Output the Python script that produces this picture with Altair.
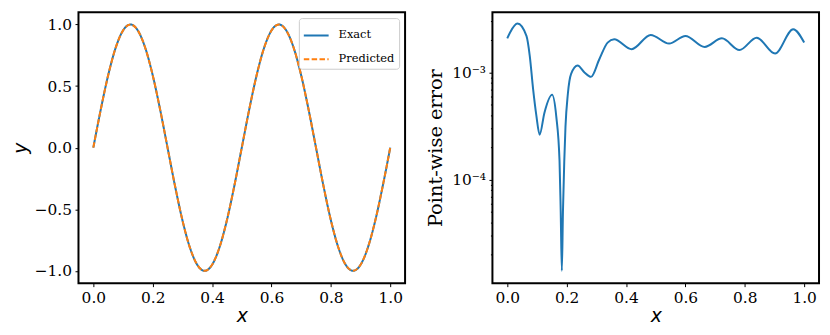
import altair as alt
import pandas as pd

# ---- left panel data: exact vs predicted solution ----
x_grid = [0.0, 0.025, 0.05, 0.075, 0.1, 0.125, 0.15, 0.175, 0.2, 0.225,
          0.25, 0.275, 0.3, 0.325, 0.35, 0.375, 0.4, 0.425, 0.45, 0.475,
          0.5, 0.525, 0.55, 0.575, 0.6, 0.625, 0.65, 0.675, 0.7, 0.725,
          0.75, 0.775, 0.8, 0.825, 0.85, 0.875, 0.9, 0.925, 0.95, 0.975, 1.0]
y_exact = [0.0, 0.309, 0.588, 0.809, 0.951, 1.0, 0.951, 0.809, 0.588, 0.309,
           0.0, -0.309, -0.588, -0.809, -0.951, -1.0, -0.951, -0.809, -0.588, -0.309,
           0.0, 0.309, 0.588, 0.809, 0.951, 1.0, 0.951, 0.809, 0.588, 0.309,
           0.0, -0.309, -0.588, -0.809, -0.951, -1.0, -0.951, -0.809, -0.588, -0.309, 0.0]
y_pred = [0.0, 0.309, 0.588, 0.809, 0.951, 1.0, 0.951, 0.809, 0.588, 0.309,
          0.0, -0.309, -0.588, -0.809, -0.951, -1.0, -0.951, -0.809, -0.588, -0.309,
          0.0, 0.309, 0.588, 0.809, 0.951, 1.0, 0.951, 0.809, 0.588, 0.309,
          0.0, -0.309, -0.588, -0.809, -0.951, -1.0, -0.951, -0.809, -0.588, -0.309, 0.0]
series_names = ["Exact", "Predicted"]
series_colors = ["#1f77b4", "#ff7f0e"]

# ---- right panel data: point-wise error ----
err_x = [0.0, 0.009, 0.0345, 0.0646, 0.0757, 0.087, 0.098, 0.109, 0.125, 0.151,
         0.165, 0.176, 0.18, 0.1838, 0.1875, 0.192, 0.196, 0.204, 0.215, 0.237,
         0.26, 0.282, 0.31, 0.338, 0.36, 0.419, 0.483, 0.545, 0.6, 0.665,
         0.723, 0.782, 0.84, 0.902, 0.963, 1.0]
err_y = [2.08e-3, 2.35e-3, 2.86e-3, 2.19e-3, 1.43e-3, 7.0e-4, 3.96e-4, 2.63e-4, 4.2e-4, 6.2e-4,
         3.9e-4, 1.5e-4, 5.0e-5, 1.42e-5, 5.0e-5, 1.5e-4, 3.1e-4, 6.3e-4, 9.7e-4, 1.16e-3,
         1.0e-3, 9.1e-4, 1.33e-3, 1.9e-3, 2.04e-3, 1.65e-3, 2.24e-3, 1.86e-3, 2.19e-3, 1.73e-3,
         2.08e-3, 1.62e-3, 2.11e-3, 1.50e-3, 2.53e-3, 1.90e-3]

x_ticks = [0.0, 0.2, 0.4, 0.6, 0.8, 1.0]
y_ticks = [-1.0, -0.5, 0.0, 0.5, 1.0]
log_major = [1e-4, 1e-3]
log_minor = [2e-5, 3e-5, 4e-5, 5e-5, 6e-5, 7e-5, 8e-5, 9e-5,
             2e-4, 3e-4, 4e-4, 5e-4, 6e-4, 7e-4, 8e-4, 9e-4, 2e-3, 3e-3]

df_left = pd.DataFrame({
    "x": x_grid + x_grid,
    "y": y_exact + y_pred,
    "series": ["Exact"] * len(x_grid) + ["Predicted"] * len(x_grid),
})
df_err = pd.DataFrame({"x": err_x, "err": err_y})

x_scale = alt.Scale(domain=[-0.05, 1.05], nice=False, zero=False)

def x_axis():
    return alt.Axis(values=x_ticks, format=".1f", title="x",
                    titleFont="DejaVu Sans", titleFontStyle="italic",
                    titleFontSize=19, titlePadding=1)

legend = alt.Legend(title=None, orient="top-right", offset=6, padding=4,
                    strokeColor="#cccccc", fillColor="white", cornerRadius=3,
                    labelFont="DejaVu Serif", labelFontSize=11.5, labelColor="black",
                    symbolType="stroke", symbolSize=625, symbolStrokeWidth=2,
                    labelOffset=9, rowPadding=5)

left = alt.Chart(df_left).mark_line(strokeWidth=2, interpolate="monotone").encode(
    x=alt.X("x:Q", scale=x_scale, axis=x_axis()),
    y=alt.Y("y:Q", scale=alt.Scale(domain=[-1.1, 1.1], nice=False, zero=False),
            axis=alt.Axis(values=y_ticks,
                          labelExpr="replace(format(datum.value, '.1f'), '-', '\u2212')",
                          title="y", titleFont="DejaVu Sans", titleFontStyle="italic",
                          titleFontSize=19, titlePadding=4)),
    color=alt.Color("series:N", scale=alt.Scale(domain=series_names, range=series_colors),
                    legend=legend),
    strokeDash=alt.StrokeDash("series:N",
                              scale=alt.Scale(domain=series_names, range=[[1, 0], [5.5, 2.4]]),
                              legend=legend),
).properties(width=329, height=273)

log_label = ("datum.value == 0.001 ? '10\u207b\u00b3' : "
             "(datum.value == 0.0001 ? '10\u207b\u2074' : '')")

right = alt.Chart(df_err).mark_line(strokeWidth=2, interpolate="monotone", color="#1f77b4").encode(
    x=alt.X("x:Q", scale=x_scale, axis=x_axis()),
    y=alt.Y("err:Q",
            scale=alt.Scale(type="log", domain=[1.087e-5, 3.65e-3], nice=False),
            axis=alt.Axis(values=log_major + log_minor, labelExpr=log_label,
                          labelOverlap=False,
                          tickSize={"condition": {"test": "datum.value == 0.001 || datum.value == 0.0001",
                                                  "value": 3.5},
                                    "value": 2},
                          title="Point-wise error", titleFont="DejaVu Serif",
                          titleFontSize=19.5, titlePadding=6)),
).properties(width=329, height=273)

chart = alt.hconcat(left, right, spacing=18).resolve_legend(
    color="independent", strokeDash="independent"
).resolve_scale(
    color="independent", strokeDash="independent"
).properties(
    padding={"left": 2, "top": 2, "right": 2, "bottom": 2}
).configure_view(
    stroke="black", strokeWidth=2
).configure_axis(
    grid=False, domain=False, tickColor="black", tickSize=3.5, tickWidth=1,
    labelFont="DejaVu Serif", labelFontSize=15.5, labelColor="black", labelPadding=3.5,
    titleColor="black", titleFontWeight="normal"
)

chart.save("out.html", embed_options={"renderer": "svg", "actions": False})
